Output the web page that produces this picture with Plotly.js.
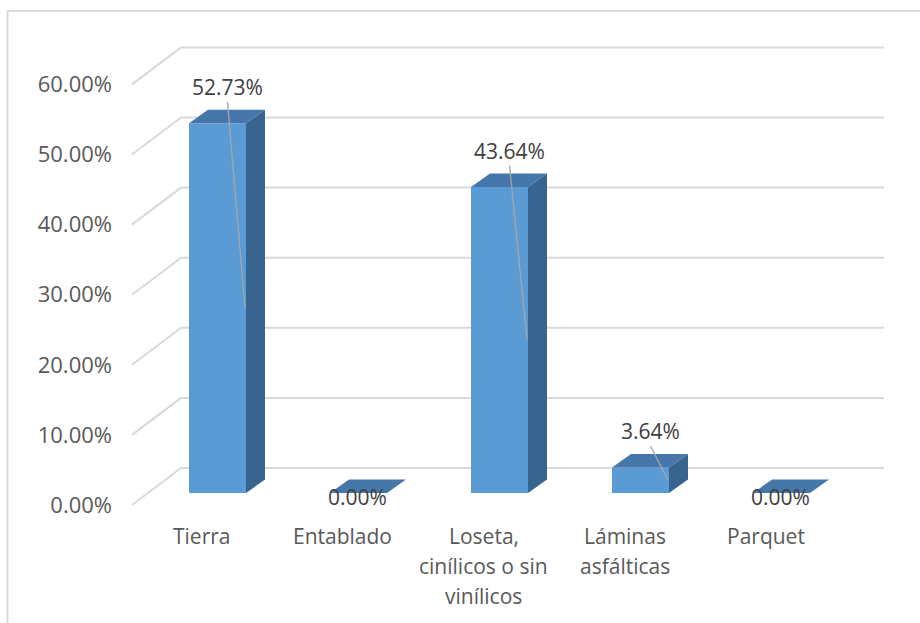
<!DOCTYPE html>
<html>
<head>
<meta charset="utf-8">
<script src="https://cdn.plot.ly/plotly-3.0.1.min.js"></script>
<style>
  html, body { margin: 0; padding: 0; background: #ffffff; }
  #chart { width: 920px; height: 623px; }
</style>
</head>
<body>
<div id="chart"></div>
<script>
// ---- data ----
const categories = ['Tierra', 'Entablado', 'Loseta,<br>cinílicos o sin<br>vinílicos', 'Láminas<br>asfálticas', 'Parquet'];
const values = [52.73, 0.00, 43.64, 3.64, 0.00];
const tickValues = [0, 10, 20, 30, 40, 50, 60];
const tickLabels = ['0.00%', '10.00%', '20.00%', '30.00%', '40.00%', '50.00%', '60.00%'];

// ---- geometry (pixels → data units) ----
const W = 920, H = 623;
const PX_CAT = 141;          // pixels per category step
const PX_PCT = 7.01;         // pixels per percentage point
const X0 = 217.5;            // pixel x of first bar centre
const Y0 = 493;              // pixel y of 0% on bar front plane
const dx = p => p / PX_CAT;
const dy = p => p / PX_PCT;
const pxToX = p => (p - X0) / PX_CAT;

const barW = dx(57);
const depthX = dx(19), depthY = dy(13.5);
const wallUp = dy(25);               // back wall relative to bar front
const axisDown = dy(12);             // front axis plane relative to bar front
const wallLeft = pxToX(181), wallRight = pxToX(884), axisLeft = pxToX(132);

const FRONT = '#5B9BD5', TOP = '#4677AA', SIDE = '#386590';
const FONT = 'Open Sans, Liberation Sans, sans-serif';

const traces = [];
// front faces
traces.push({
  type: 'bar', x: values.map((v, i) => i), y: values, width: barW,
  marker: { color: FRONT, line: { width: 0 } },
  hoverinfo: 'skip', showlegend: false
});
// top and side faces
values.forEach((v, i) => {
  const l = i - barW / 2, r = i + barW / 2;
  traces.push({
    type: 'scatter', mode: 'lines', fill: 'toself', fillcolor: TOP,
    x: [l, r, r + depthX, l + depthX, l], y: [v, v, v + depthY, v + depthY, v],
    line: { width: 0, color: TOP }, hoverinfo: 'skip', showlegend: false
  });
  if (v > 0) {
    traces.push({
      type: 'scatter', mode: 'lines', fill: 'toself', fillcolor: SIDE,
      x: [r, r + depthX, r + depthX, r, r], y: [0, depthY, v + depthY, v, 0],
      line: { width: 0, color: SIDE }, hoverinfo: 'skip', showlegend: false
    });
  }
});

// data labels + leader lines
const annotations = [];
values.forEach((v, i) => {
  let lx, ly;
  if (v > 0) {
    lx = i + dx(10); ly = v + depthY + dy(23);
    traces.push({
      type: 'scatter', mode: 'lines',
      x: [lx, i + barW / 2 - dx(1)], y: [ly - dy(15), v / 2],
      line: { color: '#A6A6A6', width: 1.3 }, hoverinfo: 'skip', showlegend: false
    });
  } else {
    lx = i - dx(1.5); ly = v - dy(4);
  }
  annotations.push({
    x: lx, y: ly, xref: 'x', yref: 'y', text: v.toFixed(2) + '%', showarrow: false,
    xanchor: 'center', yanchor: 'middle',
    font: { family: FONT, size: 21, color: '#404040' }
  });
});
// category labels on the front axis plane (one annotation per text line, 30px apart)
categories.forEach((c, i) => {
  c.split('<br>').forEach((line, k) => {
    annotations.push({
      x: i - dx(16), y: -axisDown - dy(31 + 30 * k), xref: 'x', yref: 'y', text: line, showarrow: false,
      xanchor: 'center', yanchor: 'middle', align: 'center',
      font: { family: FONT, size: 21, color: '#595959' }
    });
  });
});

// back wall gridlines and side diagonals
const shapes = [];
tickValues.forEach(t => {
  shapes.push({ type: 'line', xref: 'x', yref: 'y', layer: 'below',
    x0: wallLeft, x1: wallRight, y0: t + wallUp, y1: t + wallUp,
    line: { color: '#D9D9D9', width: 2 } });
  shapes.push({ type: 'line', xref: 'x', yref: 'y', layer: 'below',
    x0: axisLeft, x1: wallLeft, y0: t - axisDown, y1: t + wallUp,
    line: { color: '#D9D9D9', width: 2 } });
});
// chart frame
shapes.push({ type: 'rect', xref: 'paper', yref: 'paper', layer: 'below',
  x0: 7.5 / W, x1: 1.02, y0: 1 - 11 / H, y1: -0.02,
  line: { color: '#D9D9D9', width: 2 }, fillcolor: 'rgba(0,0,0,0)' });

const layout = {
  width: W, height: H,
  margin: { l: 0, r: 0, t: 0, b: 0, pad: 0 },
  paper_bgcolor: '#ffffff', plot_bgcolor: 'rgba(0,0,0,0)',
  showlegend: false,
  xaxis: { range: [pxToX(0), pxToX(W)], visible: false, fixedrange: true },
  yaxis: { range: [-(H - Y0) / PX_PCT, Y0 / PX_PCT], visible: false, fixedrange: true },
  yaxis2: {
    overlaying: 'y', anchor: 'free', position: 112 / W, side: 'left',
    range: [-(H - 505) / PX_PCT, 505 / PX_PCT],
    tickmode: 'array', tickvals: tickValues, ticktext: tickLabels,
    showgrid: false, zeroline: false, showline: false, ticks: '',
    tickfont: { family: FONT, size: 22, color: '#595959' }, fixedrange: true
  },
  shapes: shapes,
  annotations: annotations
};
// invisible helper trace to activate yaxis2
traces.push({ type: 'scatter', x: [0], y: [0], yaxis: 'y2', mode: 'markers',
  marker: { opacity: 0 }, hoverinfo: 'skip', showlegend: false });

Plotly.newPlot('chart', traces, layout, { staticPlot: true, displayModeBar: false });
</script>
</body>
</html>
